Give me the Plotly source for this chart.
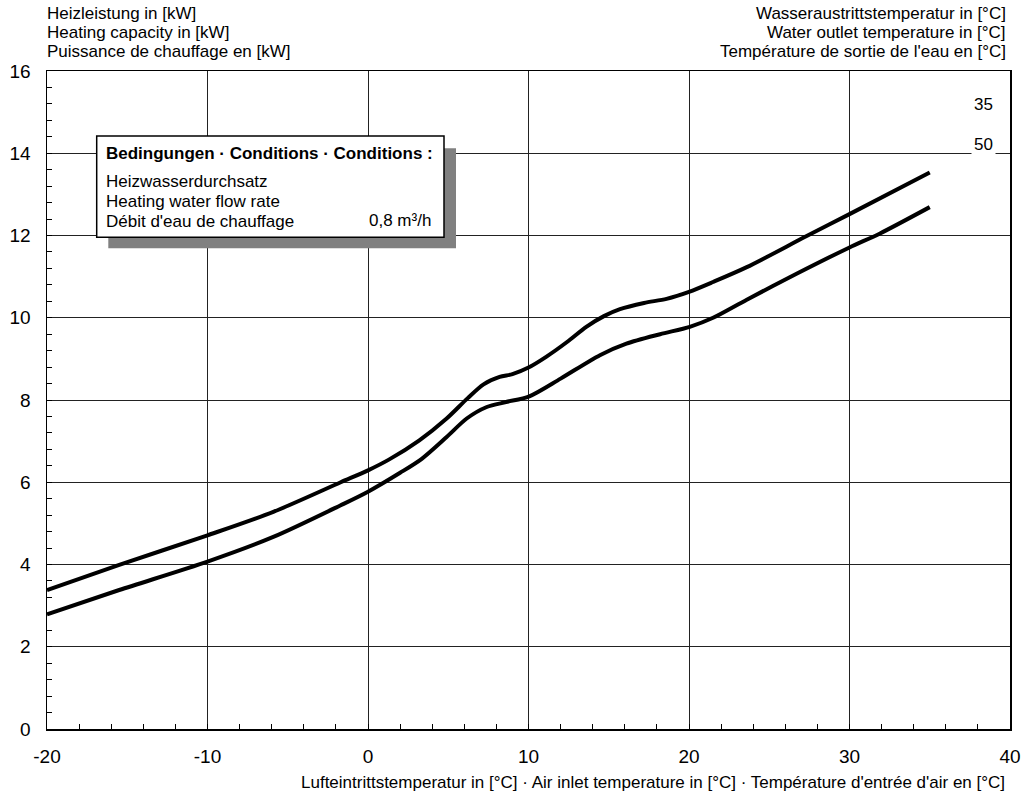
import plotly.graph_objects as go

# ---- data ----
x_35 = [-20, -15.5, -10, -5.9, -1.7, 0, 1.3, 3.2, 4.9, 6.2, 7.2, 8.2, 9.0, 10.0, 11.1,
        12.4, 13.6, 14.7, 15.7, 17.2, 18.6, 20.0, 21.5, 23.6, 27.3, 30.0, 35.0]
y_35 = [3.38, 3.99, 4.71, 5.28, 6.0, 6.29, 6.55, 7.02, 7.55, 8.04, 8.38, 8.56, 8.63, 8.79, 9.05,
        9.41, 9.78, 10.04, 10.21, 10.36, 10.46, 10.63, 10.87, 11.23, 11.98, 12.52, 13.53]

x_50 = [-20, -15.5, -10, -5.9, -1.7, 0, 2.0, 3.35, 4.9, 6.15, 7.4, 8.6, 10.05, 12.0,
        14.45, 16.1, 18.2, 20.05, 21.5, 23.6, 26.7, 30.0, 31.9, 35.0]
y_50 = [2.79, 3.38, 4.07, 4.67, 5.44, 5.77, 6.23, 6.57, 7.10, 7.55, 7.83, 7.95, 8.09, 8.52,
        9.09, 9.37, 9.60, 9.78, 10.0, 10.44, 11.07, 11.71, 12.05, 12.69]

curve_labels = ["35", "50"]

x_tickvals = [-20, -10, 0, 10, 20, 30, 40]
x_ticktext = ["-20", "-10", "0", "10", "20", "30", "40"]
y_tickvals = [0, 2, 4, 6, 8, 10, 12, 14, 16]
y_ticktext = ["0", "2", "4", "6", "8", "10", "12", "14", "16"]

y_title_lines = ["Heizleistung in [kW]", "Heating capacity in [kW]", "Puissance de chauffage en [kW]"]
t_title_lines = ["Wasseraustrittstemperatur in [°C]", "Water outlet temperature in [°C]",
                 "Température de sortie de l'eau en [°C]"]
x_title = "Lufteintrittstemperatur in [°C] · Air inlet temperature in [°C] · Température d'entrée d'air en [°C]"
box_title = "Bedingungen · Conditions · Conditions :"
box_lines = ["Heizwasserdurchsatz", "Heating water flow rate", "Débit d'eau de chauffage"]
box_value = "0,8 m³/h"

# ---- layout geometry (pixels, in screenshot coordinates) ----
W, H = 1026, 798
L, R, T, B = 47, 1010, 71, 729
PW, PH = R - L, B - T
FONT = "Liberation Sans, Arial, sans-serif"


def px(x):
    return (x - L) / PW


def py(y):
    return (B - y) / PH


fig = go.Figure()
for xs, ys in [(x_35, y_35), (x_50, y_50)]:
    fig.add_trace(go.Scatter(x=xs, y=ys, mode="lines",
                             line=dict(color="black", width=4, shape="spline", smoothing=0.8),
                             hoverinfo="skip", showlegend=False))

annotations = []


def ann(text, x, y, xanchor="left", size=17, bold=False, bg=None):
    d = dict(text=("<b>%s</b>" % text) if bold else text, xref="paper", yref="paper",
             x=px(x), y=py(y), xanchor=xanchor, yanchor="middle", showarrow=False,
             font=dict(family=FONT, size=size, color="black"), borderpad=0)
    if bg:
        d["bgcolor"] = bg
        d["borderpad"] = 2
    annotations.append(d)


title_rows = [13.5, 32.5, 51.7]
for i, t in enumerate(y_title_lines):
    ann(t, 46, title_rows[i], "left")
for i, t in enumerate(t_title_lines):
    ann(t, 1007, title_rows[i], "right")
ann(x_title, 1006, 782, "right")

ann(curve_labels[0], 983, 104, "center")
ann(curve_labels[1], 983, 144.5, "center", bg="white")

# conditions box
ann(box_title, 105, 153.5, "left", size=17, bold=True)
for i, t in enumerate(box_lines):
    ann(t, 105, 181.7 + i * 19.7, "left", size=17)
ann(box_value, 432, 221, "right", size=17)

shapes = [
    dict(type="rect", xref="paper", yref="paper", x0=px(108.3), x1=px(456), y0=py(148.3), y1=py(248.3),
         fillcolor="#808080", line=dict(width=0), layer="above"),
    dict(type="rect", xref="paper", yref="paper", x0=px(96.7), x1=px(444), y0=py(136), y1=py(237.3),
         fillcolor="white", line=dict(color="black", width=1.5), layer="above"),
]

axis_common = dict(showline=True, linecolor="black", linewidth=1.5, mirror=True,
                   showgrid=True, gridcolor="#222222", gridwidth=1, zeroline=False,
                   ticks="inside", ticklen=5, tickcolor="black", tickwidth=1,
                   tickfont=dict(family=FONT, size=19, color="black"), fixedrange=True,
                   automargin=False, tickmode="array")

fig.update_layout(
    width=W, height=H,
    margin=dict(l=L, r=W - R, t=T, b=H - B, pad=0, autoexpand=False),
    paper_bgcolor="white", plot_bgcolor="white",
    xaxis=dict(range=[-20, 40], tickvals=x_tickvals, ticktext=x_ticktext,
               minor=dict(dtick=2, tick0=0, ticks="inside", ticklen=5, tickcolor="black", tickwidth=1, showgrid=False),
               ticklabelstandoff=10, **axis_common),
    yaxis=dict(range=[0, 16], tickvals=y_tickvals, ticktext=y_ticktext,
               minor=dict(dtick=0.4, tick0=0, ticks="inside", ticklen=5, tickcolor="black", tickwidth=1, showgrid=False),
               ticklabelstandoff=11, **axis_common),
    annotations=annotations, shapes=shapes,
    showlegend=False, hovermode=False,
)

fig.write_html("out.html", config={"displayModeBar": False, "staticPlot": True},
               post_script="document.body.style.margin='0';document.body.style.overflow='hidden';")
